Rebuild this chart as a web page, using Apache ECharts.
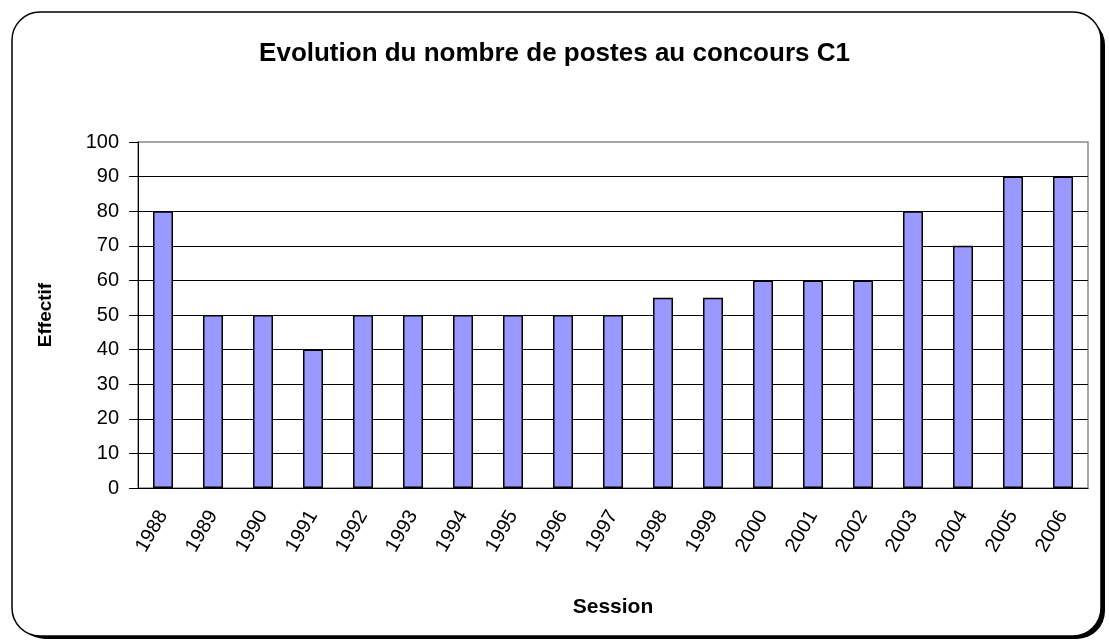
<!DOCTYPE html>
<html>
<head>
<meta charset="utf-8">
<script src="https://cdn.jsdelivr.net/npm/echarts@6/dist/echarts.min.js"></script>
<style>
  html, body { margin: 0; padding: 0; background: #fff; }
  #chart { width: 1109px; height: 642px; }
</style>
</head>
<body>
<div id="chart"></div>
<script>
const sessions = ['1988', '1989', '1990', '1991', '1992', '1993', '1994', '1995', '1996', '1997',
  '1998', '1999', '2000', '2001', '2002', '2003', '2004', '2005', '2006'];
const postes = [80, 50, 50, 40, 50, 50, 50, 50, 50, 50, 55, 55, 60, 60, 60, 80, 70, 90, 90];

const font = 'Liberation Sans, Arial, sans-serif';

const myChart = echarts.init(document.getElementById('chart'));
const option = {
  animation: false,
  textStyle: {fontFamily: font},
  graphic: [
    // ombre du cadre
    {
      type: 'rect', z: -10,
      shape: {x: 17, y: 17, width: 1088, height: 622, r: 28},
      style: {fill: '#000'},
    },
    {
      type: 'rect', z: -9,
      shape: {x: 12, y: 12, width: 1089, height: 624, r: 28},
      style: {fill: '#fff', stroke: '#000', lineWidth: 1.5},
    },
  ],
  title: {
    text: 'Evolution du nombre de postes au concours C1',
    left: 'center',
    top: 36,
    textStyle: {fontSize: 26, fontWeight: 'bold', color: '#000', fontFamily: font},
  },
  grid: {
    left: 138,
    right: 21,
    top: 142,
    height: 346,
    show: true,
    borderColor: '#8a8a8a',
    borderWidth: 1.5,
    backgroundColor: '#fff',
  },
  xAxis: {
    type: 'category',
    data: sessions,
    name: 'Session',
    nameLocation: 'middle',
    nameGap: 109,
    nameTextStyle: {fontSize: 21, fontWeight: 'bold', color: '#000'},
    axisLine: {lineStyle: {color: '#000', width: 1}},
    axisTick: {length: 8, lineStyle: {color: '#000'}},
    axisLabel: {rotate: 60, margin: 24, fontSize: 20, color: '#000'},
  },
  yAxis: {
    type: 'value',
    min: 0,
    max: 100,
    interval: 10,
    name: 'Effectif',
    nameLocation: 'middle',
    nameRotate: 90,
    nameGap: 83,
    nameTextStyle: {fontSize: 19, fontWeight: 'bold', color: '#000'},
    axisLine: {show: true, lineStyle: {color: '#000', width: 1}},
    axisTick: {show: true, length: 9, lineStyle: {color: '#000'}},
    axisLabel: {fontSize: 20, color: '#000', margin: 19},
    splitLine: {showMaxLine: false, lineStyle: {color: '#000', width: 1}},
  },
  series: [
    {
      name: 'Effectif',
      type: 'bar',
      data: postes,
      barWidth: '40%',
      itemStyle: {color: '#9999ff', borderColor: '#000', borderWidth: 1.5},
    },
  ],
};
myChart.setOption(option);
</script>
</body>
</html>
